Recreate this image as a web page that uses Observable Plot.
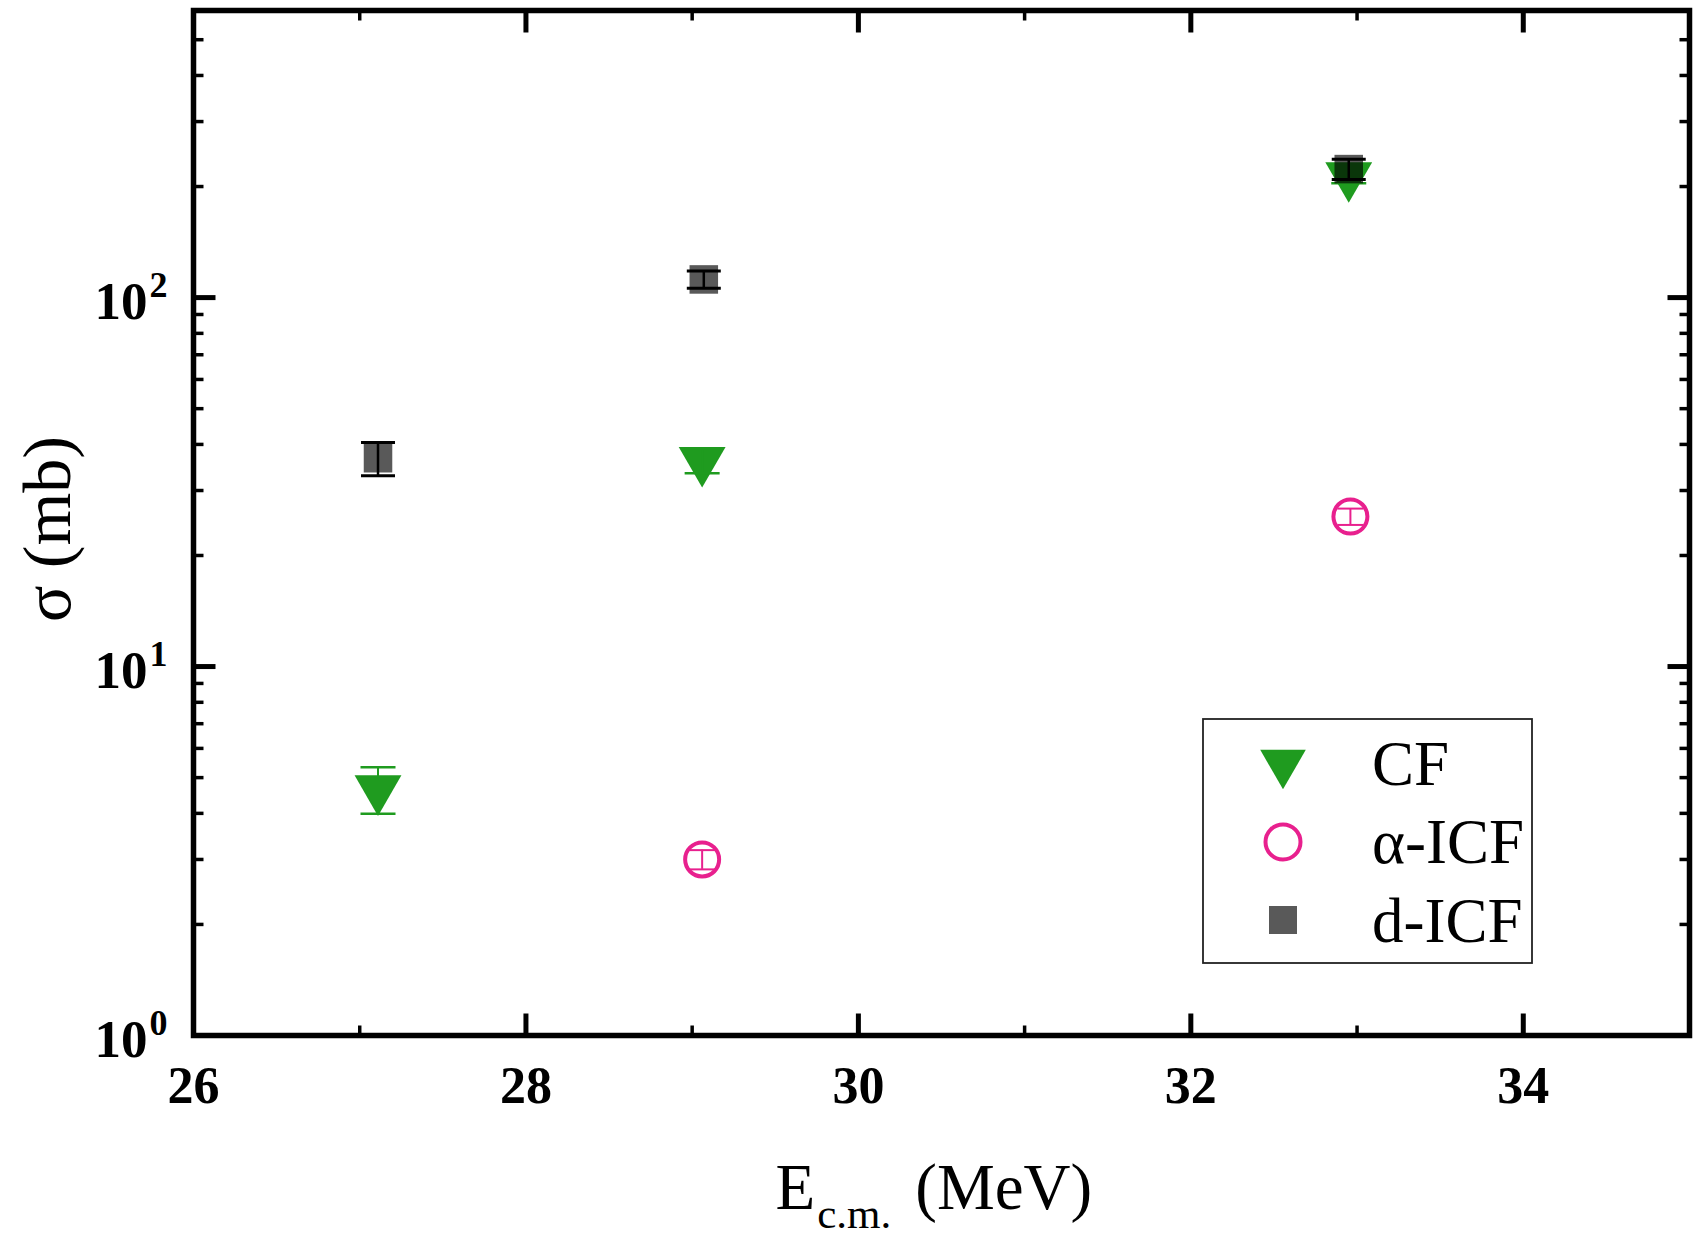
<!DOCTYPE html>
<html><head><meta charset="utf-8">
<script src="https://cdn.jsdelivr.net/npm/d3@7"></script>
<script src="https://cdn.jsdelivr.net/npm/@observablehq/plot@0.6"></script>
<style>body{margin:0;background:#fff}</style>
</head><body><div id="chart"></div>
<script>
// ---- data ----
const seriesNames = ["CF", "α-ICF", "d-ICF"];
const cfE = [27.11, 29.06, 32.95];
const cfSigma = [4.66, 36.2, 214];
const cfErr = [0.67, 2.8, 10];
const aE = [29.06, 32.96];
const aSigma = [3.0, 25.5];
const aErr = [0.18, 1.3];
const dE = [27.11, 29.07, 32.95];
const dSigma = [36.7, 112, 223];
const dErr = [3.8, 6, 14];
// ---- ticks ----
const xMajor = [26, 28, 30, 32, 34];
const xMinor = [27, 29, 31, 33];
const yMajor = [1, 10, 100];
const yMinor = [2, 3, 4, 5, 6, 7, 8, 9, 20, 30, 40, 50, 60, 70, 80, 90, 200, 300, 400, 500];
const yExp = ["0", "1", "2"];

const FONT = "'Liberation Serif', 'Times New Roman', serif";
const GREEN = "#1f9b1f", PINK = "#e8208e", GRAY = "#000";

const table = (E, S, Er) => E.map((x, i) => ({x, y: S[i], lo: S[i] - Er[i], hi: S[i] + Er[i]}));
const cf = table(cfE, cfSigma, cfErr);
const al = table(aE, aSigma, aErr);
const dd = table(dE, dSigma, dErr);
const caps = t => t.flatMap(d => [{x: d.x, y: d.lo}, {x: d.x, y: d.hi}]);

const tickShape = {draw(ctx, l) { ctx.moveTo(0, 0); ctx.lineTo(0, -l); }};
const capSymbol = {draw(ctx, size) { const r = Math.sqrt(size / Math.PI); ctx.moveTo(-r, 0); ctx.lineTo(r, 0); }};
const triDown = {draw(ctx, size) {
  const y = -Math.sqrt(size / (Math.sqrt(3) * 3));
  ctx.moveTo(0, -y * 2);
  ctx.lineTo(-Math.sqrt(3) * y, y);
  ctx.lineTo(Math.sqrt(3) * y, y);
  ctx.closePath();
}};

function tickMarks(values, axis, anchor, rotate, length, sw) {
  const o = {frameAnchor: anchor, anchor: "start", length, rotate, shape: tickShape,
             stroke: "black", strokeWidth: sw, strokeLinecap: "butt"};
  o[axis] = d => d;
  return Plot.vector(values, o);
}

const plot = Plot.plot({
  width: 1698, height: 1241,
  marginLeft: 193, marginRight: 9, marginTop: 10, marginBottom: 206,
  style: {fontFamily: FONT, background: "white", color: "black"},
  x: {domain: [26, 35], axis: null},
  y: {type: "log", domain: [1, 600], axis: null},
  marks: [
    // ticks (inward, all four sides)
    tickMarks(xMajor, "x", "bottom", 0, 22, 5),
    tickMarks(xMinor, "x", "bottom", 0, 10, 3.5),
    tickMarks(xMajor, "x", "top", 180, 22, 5),
    tickMarks(xMinor, "x", "top", 180, 10, 3.5),
    tickMarks(yMajor, "y", "left", 90, 22, 5),
    tickMarks(yMinor, "y", "left", 90, 10, 3.5),
    tickMarks(yMajor, "y", "right", -90, 22, 5),
    tickMarks(yMinor, "y", "right", -90, 10, 3.5),
    // tick labels
    Plot.text(xMajor, {x: d => d, frameAnchor: "bottom", dy: 67, lineAnchor: "bottom",
      text: d => String(d), fontWeight: "bold", fontSize: 52}),
    Plot.text(yMajor, {y: d => d, frameAnchor: "left", dx: -46, dy: 21, textAnchor: "end",
      lineAnchor: "bottom", text: () => "10", fontWeight: "bold", fontSize: 53}),
    Plot.text(yMajor, {y: d => d, frameAnchor: "left", dx: -44, dy: -1, textAnchor: "start",
      lineAnchor: "bottom", text: (d, i) => yExp[i], fontWeight: "bold", fontSize: 36}),
    // CF
    Plot.dot(cf, {x: "x", y: "y", symbol: triDown, r: 17.4, fill: GREEN, stroke: "none"}),
    Plot.ruleX(cf, {x: "x", y1: "lo", y2: "hi", stroke: GREEN, strokeWidth: 2}),
    Plot.dot(caps(cf), {x: "x", y: "y", symbol: capSymbol, r: 17.5, fill: "none", stroke: GREEN, strokeWidth: 2.5}),
    // d-ICF
    Plot.dot(dd, {x: "x", y: "y", symbol: "square", r: 16.1, fill: GRAY, fillOpacity: 0.65, stroke: "none"}),
    Plot.ruleX(dd, {x: "x", y1: "lo", y2: "hi", stroke: "black", strokeWidth: 2.5}),
    Plot.dot(caps(dd), {x: "x", y: "y", symbol: capSymbol, r: 17, fill: "none", stroke: "black", strokeWidth: 3}),
    // alpha-ICF
    Plot.dot(al, {x: "x", y: "y", symbol: "circle", r: 17, fill: "none", stroke: PINK, strokeWidth: 4}),
    Plot.ruleX(al, {x: "x", y1: "lo", y2: "hi", stroke: PINK, strokeWidth: 2}),
    Plot.dot(caps(al), {x: "x", y: "y", symbol: capSymbol, r: 13, fill: "none", stroke: PINK, strokeWidth: 2}),
    // axis labels
    Plot.text(["σ (mb)"], {frameAnchor: "left", rotate: -90, dx: -124, dy: 6, lineAnchor: "bottom",
      textAnchor: "middle", text: d => d, fontSize: 68}),
    Plot.text(["E"], {frameAnchor: "bottom", dx: -166, dy: 173, lineAnchor: "bottom", textAnchor: "start",
      text: d => d, fontSize: 65}),
    Plot.frame({stroke: "black", strokeWidth: 5.5})
  ]
});

document.getElementById("chart").appendChild(plot);

const svg = d3.select(plot);
// x label with subscript
svg.selectAll("text").filter(function() { return this.textContent === "E"; }).each(function() {
  const t = d3.select(this);
  t.text(null);
  t.append("tspan").text("E");
  t.append("tspan").attr("font-size", 43).attr("dy", 19).attr("dx", 2).text("c.m.");
  t.append("tspan").attr("dy", -19).attr("dx", 24).text("(MeV)");
});

// legend
const lg = svg.append("g").attr("font-family", FONT).attr("text-anchor", "start");
lg.append("rect").attr("x", 1203).attr("y", 719).attr("width", 329).attr("height", 244)
  .attr("fill", "white").attr("stroke", "#222").attr("stroke-width", 1.8);
const items = [
  {sym: triDown, size: 900, fill: GREEN, stroke: "none", sw: 0, cy: 763, ty: 785},
  {sym: d3.symbolCircle, size: Math.PI * 17.5 * 17.5, fill: "none", stroke: PINK, sw: 4, cy: 842, ty: 863},
  {sym: d3.symbolSquare, size: 28 * 28, fill: "#595959", stroke: "none", sw: 0, cy: 920, ty: 942}
];
items.forEach((it, i) => {
  lg.append("path").attr("d", d3.symbol(it.sym, it.size)())
    .attr("transform", `translate(1283,${it.cy})`)
    .attr("fill", it.fill).attr("stroke", it.stroke).attr("stroke-width", it.sw);
  lg.append("text").attr("x", 1372).attr("y", it.ty).attr("font-size", 63).text(seriesNames[i]);
});
</script>
</body></html>
